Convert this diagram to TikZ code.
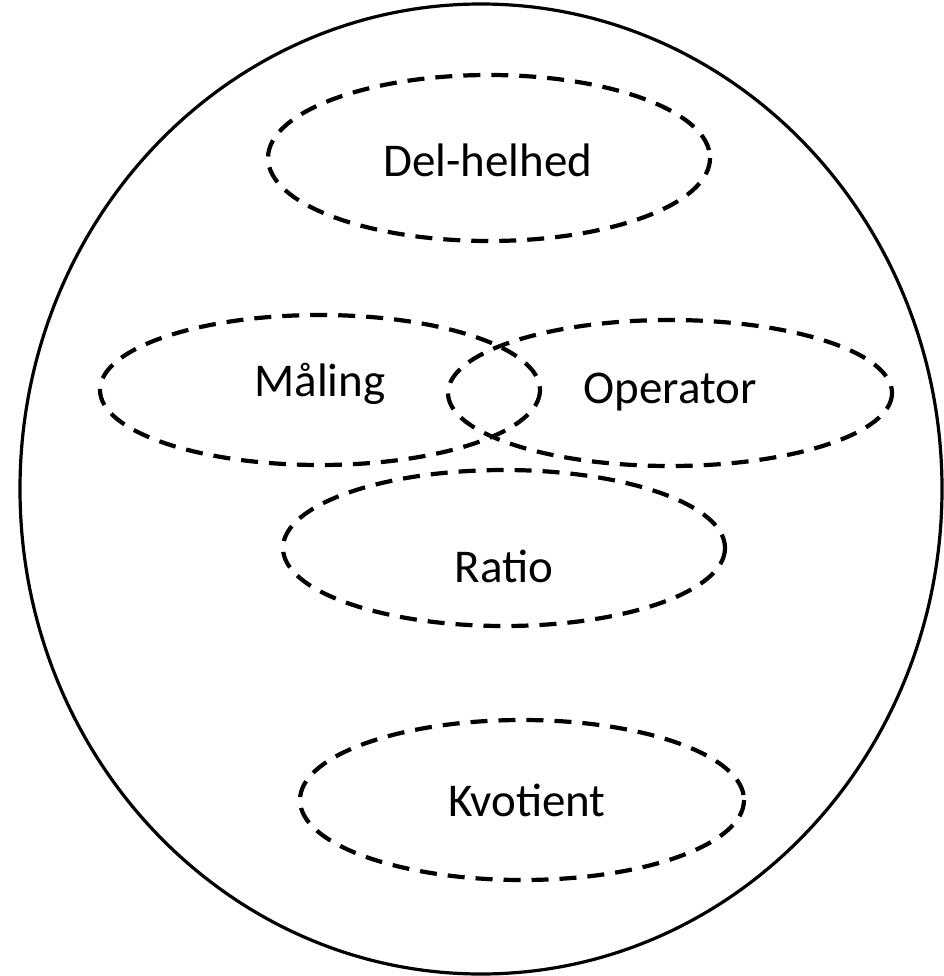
\documentclass[tikz,border=0pt]{standalone}
\usepackage{fontspec}
\setmainfont{Carlito}
\usetikzlibrary{shapes.geometric}
\begin{document}
\begin{tikzpicture}[x=1pt,y=-1pt,
  outer/.style={draw=black,line width=3.2pt},
  zone/.style={draw=black,line width=4.2pt,dash pattern=on 17pt off 11pt},
  lbl/.style={font=\fontsize{47}{52}\selectfont,inner sep=0pt}]
\useasboundingbox (0,0) rectangle (943,976);
\draw[outer] (481,489) ellipse [x radius=461, y radius=485];
\draw[zone] (489,158) ellipse [x radius=221, y radius=83];
\draw[zone] (320,390) ellipse [x radius=220, y radius=75];
\draw[zone] (670,393) ellipse [x radius=222, y radius=73];
\draw[zone] (504,548) ellipse [x radius=221, y radius=78];
\draw[zone] (522,800) ellipse [x radius=222, y radius=80];
\node[lbl] (delhelhed) at (488,160) {Del-helhed};
\node[lbl] (maaling) at (320,384) {Måling};
\node[lbl] (operator) at (670,392) {Operator};
\node[lbl] (ratio) at (504,566) {Ratio};
\node[lbl] (kvotient) at (527,800) {Kvotient};
\end{tikzpicture}
\end{document}
